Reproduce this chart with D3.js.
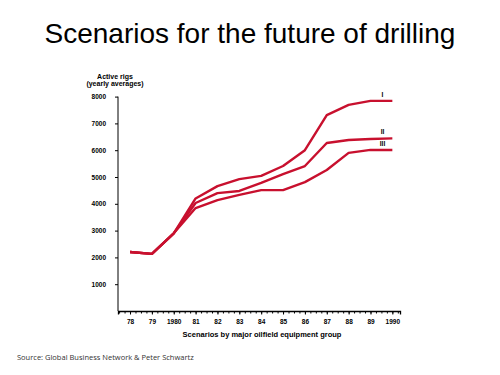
<!DOCTYPE html>
<html>
<head>
<meta charset="utf-8">
<script src="https://cdn.jsdelivr.net/npm/d3@7"></script>
<style>
  body { margin: 0; background: #fff; }
  .tick text { font-family: "Liberation Sans", Arial, sans-serif; font-weight: bold; }
</style>
</head>
<body>
<div id="chart"></div>
<script>
// Scenarios for the future of drilling
// ====================================
// Data
var years = [1978, 1979, 1980, 1981, 1982, 1983, 1984, 1985, 1986, 1987, 1988, 1989, 1990];
var yearLabels = ["78", "79", "1980", "81", "82", "83", "84", "85", "86", "87", "88", "89", "1990"];
var scenarioI   = [2200, 2130, 2900, 4200, 4660, 4920, 5040, 5410, 6000, 7310, 7690, 7840, 7840];
var scenarioII  = [2200, 2130, 2900, 4030, 4400, 4480, 4780, 5110, 5410, 6270, 6380, 6420, 6440];
var scenarioIII = [2200, 2130, 2900, 3840, 4140, 4330, 4510, 4510, 4810, 5260, 5900, 6010, 6010];
var seriesNames = ["I", "II", "III"];
var yTicks = [1000, 2000, 3000, 4000, 5000, 6000, 7000, 8000];

var width = 500;
var height = 375;
var lineColor = "#c8102e";

var svg = d3.select("#chart")
    .append("svg")
    .attr("width", width)
    .attr("height", height);

// Scales
var x = d3.scaleLinear().domain([1977.45, 1990.35]).range([118, 400]);
var y = d3.scaleLinear().domain([0, 8000]).range([311, 96.6]);

// Title
svg.append("text")
    .attr("x", 250)
    .attr("y", 43)
    .attr("text-anchor", "middle")
    .style("font-family", "Liberation Sans, Arial, sans-serif")
    .style("font-size", "28px")
    .text("Scenarios for the future of drilling");

// Y axis
var yAxis = d3.axisLeft(y)
    .tickValues(yTicks)
    .tickSize(3)
    .tickPadding(9)
    .tickFormat(d3.format("d"));

var gy = svg.append("g")
    .attr("transform", "translate(" + x(1977.45) + ",0)")
    .call(yAxis);
gy.select(".domain").attr("d", "M0," + y(0) + "V" + y(8000));
gy.selectAll(".tick text").style("font-size", "6.5px");

// X axis: quarter ticks, labelled years
var quarters = d3.range(1977.5, 1990.3, 0.25);
var gxMinor = svg.append("g")
    .attr("transform", "translate(0," + y(0) + ")")
    .call(d3.axisBottom(x).tickValues(quarters).tickSize(2.5).tickFormat(""));

var gx = svg.append("g")
    .attr("transform", "translate(0," + y(0) + ")")
    .call(d3.axisBottom(x)
        .tickValues(years)
        .tickSize(3.5)
        .tickPadding(5)
        .tickFormat(function(d, i) { return yearLabels[i]; }));
gx.select(".domain").attr("stroke-width", 1.3);
gx.selectAll(".tick text").style("font-size", "6.5px");

// Axis titles
svg.append("text")
    .attr("x", 115)
    .attr("y", 79)
    .attr("text-anchor", "middle")
    .style("font-family", "Liberation Sans, Arial, sans-serif")
    .style("font-weight", "bold")
    .style("font-size", "7px")
    .text("Active rigs");

svg.append("text")
    .attr("x", 115)
    .attr("y", 85.5)
    .attr("text-anchor", "middle")
    .style("font-family", "Liberation Sans, Arial, sans-serif")
    .style("font-weight", "bold")
    .style("font-size", "7px")
    .text("(yearly averages)");

svg.append("text")
    .attr("x", 262)
    .attr("y", 337)
    .attr("text-anchor", "middle")
    .style("font-family", "Liberation Sans, Arial, sans-serif")
    .style("font-weight", "bold")
    .style("font-size", "7.5px")
    .text("Scenarios by major oilfield equipment group");

// Lines
var line = d3.line()
    .x(function(d, i) { return x(years[i]); })
    .y(function(d) { return y(d); });

var allSeries = [scenarioI, scenarioII, scenarioIII];
svg.selectAll(".scenario")
    .data(allSeries)
    .enter()
    .append("path")
    .attr("class", "scenario")
    .attr("d", line)
    .attr("fill", "none")
    .attr("stroke", lineColor)
    .attr("stroke-width", 2.4)
    .attr("stroke-linejoin", "round");

// Series labels
svg.selectAll(".seriesLabel")
    .data(allSeries)
    .enter()
    .append("text")
    .attr("class", "seriesLabel")
    .attr("x", x(1989.55))
    .attr("y", function(d) { return y(d[d.length - 1]) - 4; })
    .attr("text-anchor", "middle")
    .style("font-family", "Liberation Sans, Arial, sans-serif")
    .style("font-weight", "bold")
    .style("font-size", "6.5px")
    .text(function(d, i) { return seriesNames[i]; });

// Source
svg.append("text")
    .attr("x", 17)
    .attr("y", 360)
    .style("font-family", "Open Sans, sans-serif")
    .style("font-size", "7.5px")
    .attr("fill", "#333")
    .text("Source: Global Business Network & Peter Schwartz");
</script>
</body>
</html>
